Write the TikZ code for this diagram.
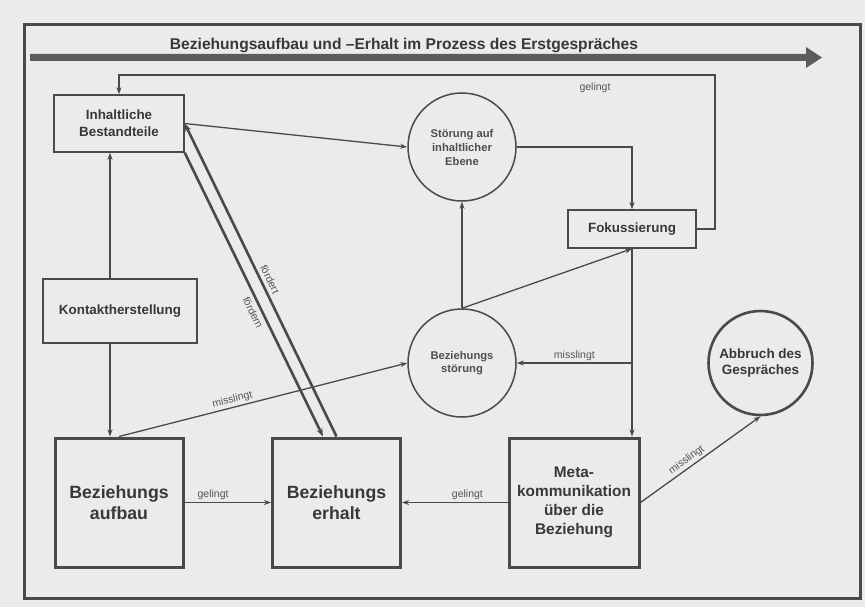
\documentclass[tikz,border=0pt]{standalone}
\usepackage{fontspec}
\setmainfont{Liberation Sans}
\usetikzlibrary{arrows.meta,calc}
\definecolor{bg}{HTML}{EBEBEB}
\definecolor{ln}{HTML}{4A4A4A}
\definecolor{tx}{HTML}{383838}
\definecolor{lt}{HTML}{555555}
\definecolor{ctx}{HTML}{4E4E4E}
\begin{document}
\begin{tikzpicture}[x=1pt,y=-1pt,
  box/.style={draw=ln, line width=1.5pt, inner sep=0pt, align=center, text=tx,
    font=\fontsize{13.4}{17}\selectfont\bfseries},
  bigbox/.style={draw=ln, line width=3pt, inner sep=0pt, align=center, text=tx,
    minimum width=128pt, minimum height=129pt,
    font=\fontsize{17.7}{21}\selectfont\bfseries},
  circ/.style={draw=ln, circle, line width=1.5pt, inner sep=0pt, align=center, text=ctx,
    minimum size=108pt, font=\fontsize{11.2}{14}\selectfont\bfseries},
  arr/.style={draw=ln, line width=1.3pt, -{Stealth[length=7pt,width=5pt]}},
  thk/.style={draw=ln, line width=2.6pt, -{Stealth[length=8pt,width=6pt]}},
  lbl/.style={font=\fontsize{10.5}{12}\selectfont, text=lt, inner sep=2pt},
  slbl/.style={lbl, font=\fontsize{10.5}{12}\selectfont, inner sep=3.5pt}
]
\fill[bg] (0,0) rectangle (865,607);
\useasboundingbox (0,0) rectangle (865,607);
% frame
\draw[ln, line width=3pt] (24,25) rectangle (860,598);
% title arrow
\fill[ln!90] (30,54) -- (806,54) -- (806,47) -- (822,57.5) -- (806,68) -- (806,61) -- (30,61) -- cycle;
\node[font=\fontsize{15.6}{18}\selectfont\bfseries, text=tx, inner sep=0pt] (title) at (404,46)
  {Beziehungsaufbau und –Erhalt im Prozess des Erstgespräches};

% nodes
\node[box, minimum width=130pt, minimum height=57pt] (inh) at (119,123.5) {Inhaltliche\\Bestandteile};
\node[box, minimum width=154pt, minimum height=64pt] (kon) at (120,311) {Kontaktherstellung};
\node[box, minimum width=128pt, minimum height=38pt] (fok) at (632,229) {Fokussierung};
\node[bigbox] (auf) at (119,502.5) {Beziehungs\\aufbau};
\node[bigbox] (erh) at (336.5,502.5) {Beziehungs\\erhalt};
\node[bigbox, minimum width=130pt, font=\fontsize{15.4}{19}\selectfont\bfseries] (meta) at (574,502.5)
  {Meta-\\kommunikation\\über die\\Beziehung};
\node[circ] (stoe) at (462,147) {Störung auf\\inhaltlicher\\Ebene};
\node[circ] (bst) at (462,363) {\raisebox{-5pt}{\begin{tabular}{@{}c@{}}Beziehungs\\[-1pt]störung\end{tabular}}};
\node[circ, minimum size=104pt, line width=2.6pt, text=tx,
  font=\fontsize{13.5}{16}\selectfont\bfseries] (abb) at (760.5,363) {Abbruch des\\Gespräches};

% connectors
\coordinate (g1) at (715,75);
\draw[arr] (fok.east) -| (g1) -| (inh.north);
\node[lbl] (lg1) at (595,88) {gelingt};

\draw[arr] ([xshift=-10pt]kon.north) -- ([xshift=-10pt]kon.north |- inh.south);
\draw[arr] ([xshift=-10pt]kon.south) -- ([xshift=-10pt]kon.south |- auf.north);

\draw[arr] (auf.north) -- (bst.west) node[lbl, pos=0.4, sloped, above] {misslingt};
\draw[arr] (auf.east) -- (erh.west) node[lbl, pos=0.33, above] {gelingt};
\draw[arr] (meta.west) -- (erh.east) node[lbl, pos=0.38, above] {gelingt};

\draw[thk] (inh.south east) -- ([xshift=-13.5pt]erh.north) node[slbl, pos=0.55, sloped, below] {fördern};
\draw[thk] (erh.north) -- (inh.east) node[slbl, pos=0.49, sloped, above] {fördert};

\draw[arr] (inh.east) -- (stoe.west);
\draw[arr] (stoe.east) -| (fok.north);
\draw[arr] (bst.north) -- (stoe.south);
\draw[arr] (bst.north) -- (fok.south);
\draw[arr] (fok.south) -- (fok.south |- meta.north);
\coordinate (m1) at (fok.south |- bst.east);
\draw[arr] (m1) -- (bst.east) node[lbl, midway, above] {misslingt};
\draw[arr] (meta.east) -- (abb.south) node[lbl, pos=0.42, sloped, above] {misslingt};
\end{tikzpicture}
\end{document}
